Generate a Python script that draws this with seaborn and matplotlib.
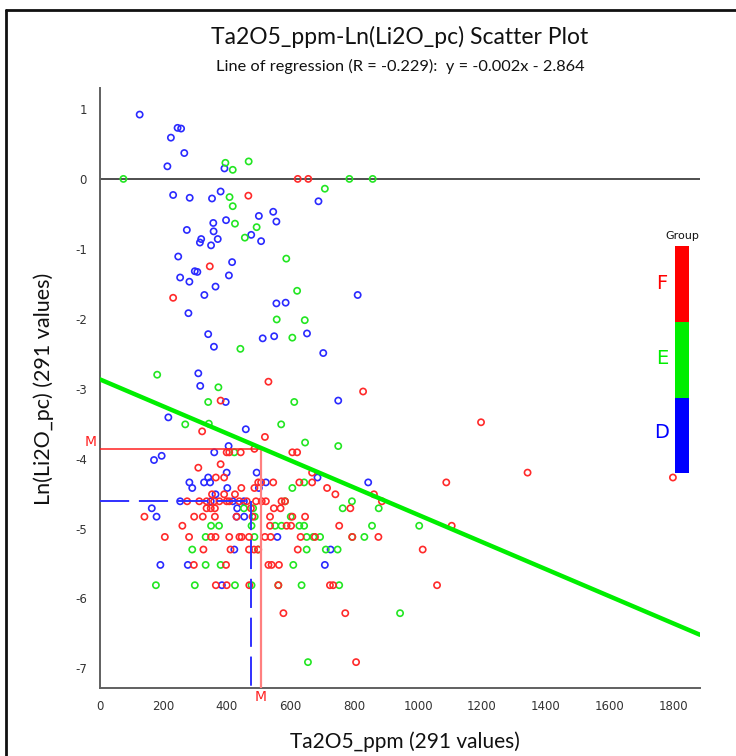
import numpy as np
import pandas as pd
import matplotlib
matplotlib.use("Agg")
import matplotlib.pyplot as plt
import seaborn as sns
from matplotlib.patches import Rectangle
from matplotlib.lines import Line2D

# ---------------- data ----------------
title = "Ta2O5_ppm-Ln(Li2O_pc) Scatter Plot"
subtitle = "Line of regression (R = -0.229):  y = -0.002x - 2.864"
x_label = "Ta2O5_ppm (291 values)"
y_label = "Ln(Li2O_pc) (291 values)"
groups = ["F", "E", "D"]
group_colors = ["#ff2a2a", "#22e622", "#2a2aff"]
legend_colors = ["#ff0000", "#00ee00", "#0000ff"]
x_ticks = [0, 200, 400, 600, 800, 1000, 1200, 1400, 1600, 1800]
y_ticks = [1, 0, -1, -2, -3, -4, -5, -6, -7]

# regression line coefficients (as drawn)
reg_intercept = -2.864
reg_slope = -0.00194
# mean (M) and median markers
mean_x, mean_y = 506, -3.86
median_x, median_y = 475, -4.61

d_x = [126, 245, 256, 224, 266, 213, 392, 231, 283, 353, 380, 687,
       545, 500, 555, 397, 357, 274, 358, 476, 319, 315, 371, 350, 507,
       247, 416, 299, 307, 406, 253, 282, 364, 810, 329, 555, 584, 279,
       341, 512, 548, 651, 359, 702,
       310, 316, 396, 749, 216, 459, 405, 360, 195, 171,
       341, 399, 493, 684, 843,
       282, 328, 347, 522,
       291, 401, 500,
       364,
       253, 349, 418, 453,
       164, 432,
       179, 430, 454,
       558,
       423, 725,
       191, 277, 707,
       384]
d_y = [0.92, 0.73, 0.72, 0.59, 0.37, 0.18, 0.15, -0.23, -0.27, -0.28, -0.18, -0.32,
       -0.47, -0.53, -0.61, -0.59, -0.63, -0.73, -0.75, -0.80, -0.86, -0.91, -0.86, -0.95, -0.89,
       -1.11, -1.19, -1.32, -1.33, -1.38, -1.41, -1.47, -1.54, -1.66, -1.66, -1.78, -1.77, -1.92,
       -2.22, -2.28, -2.25, -2.21, -2.40, -2.49,
       -2.78, -2.96, -3.19, -3.17, -3.41, -3.58, -3.82, -3.91, -3.96, -4.02,
       -4.27, -4.20, -4.20, -4.27, -4.34,
       -4.34, -4.34, -4.34, -4.34,
       -4.42, -4.42, -4.42,
       -4.51,
       -4.61, -4.61, -4.61, -4.61,
       -4.71, -4.71,
       -4.83, -4.83, -4.83,
       -5.12,
       -5.30, -5.30,
       -5.52, -5.52, -5.52,
       -5.81]

e_x = [395, 468, 418, 75, 784, 857, 707,
       408, 418, 425, 493, 456, 586, 620, 556, 644, 605, 442,
       181, 373, 341, 611, 269, 343, 570, 645, 749,
       423,
       642,
       605,
       582, 792,
       453, 482, 763, 876,
       487, 600,
       350, 375, 477, 551, 571, 627, 642, 855, 1003,
       333, 486, 650, 671, 692, 793, 831,
       291, 497, 650, 710, 747,
       333, 380, 608,
       177, 299, 425, 477, 561, 634, 752,
       943,
       654]
e_y = [0.23, 0.25, 0.13, 0.0, 0.0, 0.0, -0.14,
       -0.26, -0.39, -0.64, -0.69, -0.84, -1.14, -1.60, -2.01, -2.02, -2.27, -2.43,
       -2.80, -2.98, -3.19, -3.19, -3.51, -3.50, -3.51, -3.77, -3.82,
       -3.91,
       -4.34,
       -4.42,
       -4.61, -4.61,
       -4.71, -4.71, -4.71, -4.71,
       -4.83, -4.83,
       -4.96, -4.96, -4.96, -4.96, -4.96, -4.96, -4.96, -4.96, -4.96,
       -5.12, -5.12, -5.12, -5.12, -5.12, -5.12, -5.12,
       -5.30, -5.30, -5.30, -5.30, -5.30,
       -5.52, -5.52, -5.52,
       -5.81, -5.81, -5.81, -5.81, -5.81, -5.81, -5.81,
       -6.21,
       -6.91]

f_x = [622, 655, 467, 346, 231,
       530, 827, 380, 322, 519, 486,
       399, 407, 443, 605, 620,
       380, 310, 667,
       365, 391,
       498, 507, 545, 627, 667, 1088,
       445, 486, 714,
       353, 391, 425, 740, 861,
       275, 313, 336, 360, 376, 399, 407, 439, 462, 491, 509, 522, 571, 582, 886,
       336, 349, 362, 475, 547, 568, 787,
       141, 297, 324, 362, 430, 480, 535, 605, 645,
       260, 535, 587, 601, 752, 1105,
       205, 281, 350, 364, 407, 439, 446, 469, 519, 537, 631, 676, 793, 875,
       326, 411, 469, 485, 498, 622, 1014,
       296, 397, 530, 540, 563,
       365, 399, 470, 561, 723, 733, 1059,
       577, 771,
       805,
       1197, 1343, 1799]
f_y = [0.0, 0.0, -0.24, -1.25, -1.70,
       -2.90, -3.04, -3.17, -3.61, -3.69, -3.86,
       -3.91, -3.91, -3.91, -3.91, -3.91,
       -4.08, -4.13, -4.20,
       -4.27, -4.27,
       -4.34, -4.34, -4.34, -4.34, -4.34, -4.34,
       -4.42, -4.42, -4.42,
       -4.51, -4.51, -4.51, -4.51, -4.51,
       -4.61, -4.61, -4.61, -4.61, -4.61, -4.61, -4.61, -4.61, -4.61, -4.61, -4.61, -4.61, -4.61, -4.61, -4.61,
       -4.71, -4.71, -4.71, -4.71, -4.71, -4.71, -4.71,
       -4.83, -4.83, -4.83, -4.83, -4.83, -4.83, -4.83, -4.83, -4.83,
       -4.96, -4.96, -4.96, -4.96, -4.96, -4.96,
       -5.12, -5.12, -5.12, -5.12, -5.12, -5.12, -5.12, -5.12, -5.12, -5.12, -5.12, -5.12, -5.12, -5.12,
       -5.30, -5.30, -5.30, -5.30, -5.30, -5.30, -5.30,
       -5.52, -5.52, -5.52, -5.52, -5.52,
       -5.81, -5.81, -5.81, -5.81, -5.81, -5.81, -5.81,
       -6.21, -6.21,
       -6.91,
       -3.48, -4.20, -4.27]

df = pd.concat([
    pd.DataFrame({"Ta2O5_ppm": d_x, "ln_Li2O": d_y, "Group": "D"}),
    pd.DataFrame({"Ta2O5_ppm": e_x, "ln_Li2O": e_y, "Group": "E"}),
    pd.DataFrame({"Ta2O5_ppm": f_x, "ln_Li2O": f_y, "Group": "F"}),
], ignore_index=True)

# ---------------- figure ----------------
sns.set_style("white")
plt.rcParams["font.family"] = ["Liberation Sans", "DejaVu Sans"]

W, H = 736, 756
fig = plt.figure(figsize=(W / 100, H / 100), dpi=100)
ax = fig.add_axes([99.5 / W, 1 - 688 / H, (700 - 99.5) / W, (688 - 88) / H])

x_min, x_max = 0, 1884
y_min, y_max = -7.28, 1.30

ax.axhline(0, color="#303030", lw=1.2, zorder=1)

sns.scatterplot(data=df, x="Ta2O5_ppm", y="ln_Li2O", hue="Group",
                palette=dict(zip(groups, group_colors)), hue_order=["D", "E", "F"],
                s=20, linewidth=1.2, legend=False, ax=ax, zorder=3)
coll = ax.collections[-1]
fc = coll.get_facecolors()
coll.set_edgecolors(fc)
coll.set_facecolors("none")

# regression line
reg_x = np.array([x_min, x_max])
sns.lineplot(x=reg_x, y=reg_intercept + reg_slope * reg_x, color="#00ee00",
             lw=3.2, ax=ax, zorder=5)

# mean lines (red) and median lines (blue dashed)
ax.plot([x_min, mean_x], [mean_y, mean_y], color="#ff2020", lw=1.1, zorder=4)
ax.plot([mean_x, mean_x], [mean_y, y_min], color="#ff8080", lw=1.6, zorder=4)
ax.plot([x_min, median_x], [median_y, median_y], color="#3030ff", lw=1.4,
        dashes=(15, 5), zorder=4)
ax.plot([median_x, median_x], [median_y, y_min], color="#3030ff", lw=1.4,
        dashes=(15, 5), zorder=4)
ax.text(-0.004, mean_y, "M", transform=ax.get_yaxis_transform(), color="#ff2020",
        fontsize=10, ha="right", va="bottom", family=["DejaVu Sans"])
ax.text(mean_x, -0.003, "M", transform=ax.get_xaxis_transform(), color="#ff2020",
        fontsize=10, ha="center", va="top", family=["DejaVu Sans"])

ax.set_xlim(x_min, x_max)
ax.set_ylim(y_min, y_max)
ax.set_xticks(x_ticks)
ax.set_yticks(y_ticks)
ax.set_xticklabels([str(t) for t in x_ticks])
ax.set_yticklabels([str(t) for t in y_ticks])
ax.tick_params(axis="both", direction="out", length=4, width=1, color="#606060",
               labelsize=8.5, labelcolor="#333333", pad=5)
for lab in ax.get_xticklabels() + ax.get_yticklabels():
    lab.set_family(["DejaVu Sans"])
for side in ["top", "right"]:
    ax.spines[side].set_visible(False)
for side in ["left", "bottom"]:
    ax.spines[side].set_color("#606060")
    ax.spines[side].set_linewidth(1.4)
ax.set_xlabel("")
ax.set_ylabel("")

# titles and labels
fig.text(400 / W, 1 - 37 / H, title, ha="center", va="center", fontsize=16.5,
         family=["Lato", "DejaVu Sans"], color="#111111")
fig.text(400 / W, 1 - 66 / H, subtitle, ha="center", va="center", fontsize=11.8,
         family=["Lato", "DejaVu Sans"], color="#111111")
fig.text(405 / W, 1 - 742 / H, x_label, ha="center", va="center", fontsize=15,
         family=["Lato", "DejaVu Sans"], color="#111111")
fig.text(44 / W, 1 - 389 / H, y_label, ha="center", va="center", fontsize=15.5,
         rotation=90, family=["Lato", "DejaVu Sans"], color="#111111")

# group legend bar
bar_left, bar_w = 675, 14
bounds = [(246, 322), (322, 398), (398, 473)]
label_y = [283, 359, 433]
for g, c, (t, b), ly in zip(groups, legend_colors, bounds, label_y):
    fig.patches.append(Rectangle((bar_left / W, 1 - b / H), bar_w / W, (b - t) / H,
                                 transform=fig.transFigure, facecolor=c,
                                 edgecolor="none", zorder=6))
    fig.text(662 / W, 1 - ly / H, g, ha="center", va="center", fontsize=14,
             color=c, family=["DejaVu Sans"])
fig.text(682 / W, 1 - 236 / H, "Group", ha="center", va="center", fontsize=8,
         color="#111111", family=["DejaVu Sans"])

# outer frame (left and top edges)
fig.lines.append(Line2D([6 / W, 6 / W], [0, 1 - 10 / H], transform=fig.transFigure,
                        color="#111111", lw=2))
fig.lines.append(Line2D([6 / W, 1], [1 - 10 / H, 1 - 10 / H], transform=fig.transFigure,
                        color="#111111", lw=2))

fig.savefig("out.png", dpi=100)
